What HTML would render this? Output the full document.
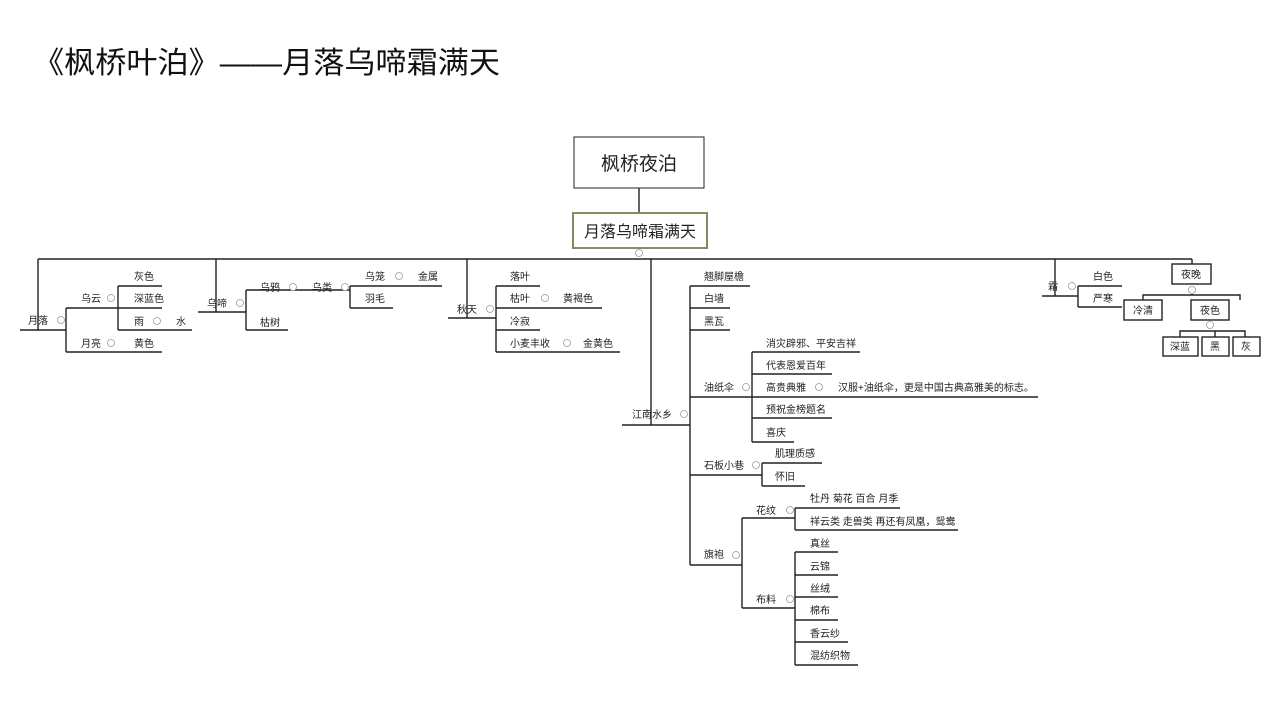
<!DOCTYPE html>
<html><head><meta charset="utf-8"><style>
body{margin:0;width:1280px;height:720px;background:#fff;overflow:hidden}
svg text{font-family:"Liberation Sans","Noto Sans CJK SC",sans-serif;font-size:10px;fill:#222}
.t{font-size:30px;fill:#111}
</style></head><body>
<svg width="1280" height="720" xmlns="http://www.w3.org/2000/svg">
<g stroke="#222" stroke-width="1.4" fill="none">
<rect x="574" y="137" width="130" height="51" stroke-width="1"/>
<line x1="639" y1="188" x2="639" y2="213"/>
<rect x="573" y="213" width="134" height="35" stroke="#8a8a60" stroke-width="2"/>
<line x1="38" y1="259" x2="1192" y2="259"/>
<line x1="38" y1="259" x2="38" y2="330"/>
<line x1="216" y1="259" x2="216" y2="312"/>
<line x1="467" y1="259" x2="467" y2="318"/>
<line x1="651" y1="259" x2="651" y2="425"/>
<line x1="1055" y1="259" x2="1055" y2="296"/>
<line x1="1192" y1="259" x2="1192" y2="264"/>
<line x1="20" y1="330" x2="66" y2="330"/>
<path d="M66 308 V352"/>
<line x1="66" y1="308" x2="118" y2="308"/><line x1="66" y1="352" x2="118" y2="352"/>
<path d="M118 286 V330"/>
<line x1="118" y1="286" x2="162" y2="286"/><line x1="118" y1="308" x2="162" y2="308"/>
<line x1="118" y1="330" x2="192" y2="330"/><line x1="118" y1="352" x2="162" y2="352"/>
<line x1="198" y1="312" x2="246" y2="312"/>
<path d="M246 290 V330"/>
<line x1="246" y1="290" x2="350" y2="290"/><line x1="246" y1="330" x2="288" y2="330"/>
<path d="M350 286 V308"/>
<line x1="350" y1="286" x2="442" y2="286"/><line x1="350" y1="308" x2="393" y2="308"/>
<line x1="448" y1="318" x2="496" y2="318"/>
<path d="M496 286 V352"/>
<line x1="496" y1="286" x2="540" y2="286"/><line x1="496" y1="308" x2="602" y2="308"/>
<line x1="496" y1="330" x2="540" y2="330"/><line x1="496" y1="352" x2="620" y2="352"/>
<line x1="622" y1="425" x2="690" y2="425"/>
<path d="M690 286 V565"/>
<line x1="690" y1="286" x2="750" y2="286"/><line x1="690" y1="308" x2="730" y2="308"/>
<line x1="690" y1="330" x2="730" y2="330"/><line x1="690" y1="397" x2="1038" y2="397"/>
<line x1="690" y1="475" x2="762" y2="475"/><line x1="690" y1="565" x2="742" y2="565"/>
<path d="M752 352 V442"/>
<line x1="752" y1="352" x2="860" y2="352"/><line x1="752" y1="374" x2="832" y2="374"/>
<line x1="752" y1="418" x2="832" y2="418"/><line x1="752" y1="442" x2="794" y2="442"/>
<path d="M762 463 V486"/>
<line x1="762" y1="463" x2="822" y2="463"/><line x1="762" y1="486" x2="805" y2="486"/>
<path d="M742 518 V608"/>
<line x1="742" y1="518" x2="795" y2="518"/><line x1="742" y1="608" x2="795" y2="608"/>
<path d="M795 508 V530"/>
<line x1="795" y1="508" x2="900" y2="508"/><line x1="795" y1="530" x2="958" y2="530"/>
<path d="M795 552 V665"/>
<line x1="795" y1="552" x2="838" y2="552"/><line x1="795" y1="575" x2="838" y2="575"/>
<line x1="795" y1="597" x2="838" y2="597"/><line x1="795" y1="620" x2="838" y2="620"/>
<line x1="795" y1="642" x2="848" y2="642"/><line x1="795" y1="665" x2="858" y2="665"/>
<line x1="1042" y1="296" x2="1078" y2="296"/>
<path d="M1078 286 V307"/>
<line x1="1078" y1="286" x2="1122" y2="286"/><line x1="1078" y1="307" x2="1122" y2="307"/>
<rect x="1172" y="264" width="39" height="20"/>
<path d="M1192 294 V295 M1143 300 V295 H1240 V300"/>
<rect x="1124" y="300" width="38" height="20"/>
<rect x="1191" y="300" width="38" height="20"/>
<path d="M1180 337 V331 H1245 V337 M1215 331 V337"/>
<rect x="1163" y="337" width="35" height="19"/>
<rect x="1202" y="337" width="27" height="19"/>
<rect x="1233" y="337" width="27" height="19"/>
</g>
<g stroke="#999" stroke-width="0.8" fill="#fff">
<circle cx="639" cy="253" r="3.5"/><circle cx="1192" cy="290" r="3.5"/><circle cx="1210" cy="325" r="3.5"/>
<circle cx="61" cy="320" r="3.5"/><circle cx="111" cy="298" r="3.5"/><circle cx="111" cy="343" r="3.5"/><circle cx="157" cy="321" r="3.5"/>
<circle cx="240" cy="303" r="3.5"/><circle cx="293" cy="287" r="3.5"/><circle cx="345" cy="287" r="3.5"/><circle cx="399" cy="276" r="3.5"/>
<circle cx="490" cy="309" r="3.5"/><circle cx="545" cy="298" r="3.5"/><circle cx="567" cy="343" r="3.5"/>
<circle cx="684" cy="414" r="3.5"/><circle cx="746" cy="387" r="3.5"/><circle cx="819" cy="387" r="3.5"/><circle cx="756" cy="465" r="3.5"/>
<circle cx="736" cy="555" r="3.5"/><circle cx="790" cy="510" r="3.5"/><circle cx="790" cy="599" r="3.5"/><circle cx="1072" cy="286" r="3.5"/>
</g>
<text class="t" x="33" y="73" textLength="467" lengthAdjust="spacingAndGlyphs">《枫桥叶泊》——月落乌啼霜满天</text>
<text x="639" y="170" text-anchor="middle" style="font-size:19px">枫桥夜泊</text>
<text x="640" y="237" text-anchor="middle" style="font-size:16px">月落乌啼霜满天</text>
<text x="28" y="324">月落</text><text x="81" y="302">乌云</text><text x="81" y="347">月亮</text>
<text x="134" y="280">灰色</text><text x="134" y="302">深蓝色</text><text x="134" y="325">雨</text><text x="176" y="325">水</text><text x="134" y="347">黄色</text>
<text x="207" y="307">乌啼</text><text x="260" y="291">乌鸦</text><text x="312" y="291">乌类</text><text x="260" y="326">枯树</text>
<text x="365" y="280">乌笼</text><text x="418" y="280">金属</text><text x="365" y="302">羽毛</text>
<text x="457" y="313">秋天</text><text x="510" y="280">落叶</text><text x="510" y="302">枯叶</text><text x="563" y="302">黄褐色</text>
<text x="510" y="325">冷寂</text><text x="510" y="347">小麦丰收</text><text x="583" y="347">金黄色</text>
<text x="632" y="418">江南水乡</text><text x="704" y="280">翘脚屋檐</text><text x="704" y="302">白墙</text><text x="704" y="325">黑瓦</text>
<text x="704" y="391">油纸伞</text><text x="766" y="347">消灾辟邪、平安吉祥</text><text x="766" y="369">代表恩爱百年</text>
<text x="766" y="391">高贵典雅</text><text x="838" y="391">汉服+油纸伞，更是中国古典高雅美的标志。</text>
<text x="766" y="413">预祝金榜题名</text><text x="766" y="436">喜庆</text>
<text x="704" y="469">石板小巷</text><text x="775" y="457">肌理质感</text><text x="775" y="480">怀旧</text>
<text x="704" y="558">旗袍</text><text x="756" y="514">花纹</text><text x="756" y="603">布料</text>
<text x="810" y="502">牡丹 菊花 百合 月季</text><text x="810" y="525">祥云类 走兽类 再还有凤凰，鸳鸯</text>
<text x="810" y="547">真丝</text><text x="810" y="570">云锦</text><text x="810" y="592">丝绒</text><text x="810" y="614">棉布</text><text x="810" y="637">香云纱</text><text x="810" y="659">混纺织物</text>
<text x="1048" y="290">霜</text><text x="1093" y="280">白色</text><text x="1093" y="302">严寒</text>
<text x="1191" y="278" text-anchor="middle">夜晚</text><text x="1143" y="314" text-anchor="middle">冷清</text><text x="1210" y="314" text-anchor="middle">夜色</text>
<text x="1180" y="350" text-anchor="middle">深蓝</text><text x="1215" y="350" text-anchor="middle">黑</text><text x="1246" y="350" text-anchor="middle">灰</text>
</svg>
</body></html>
